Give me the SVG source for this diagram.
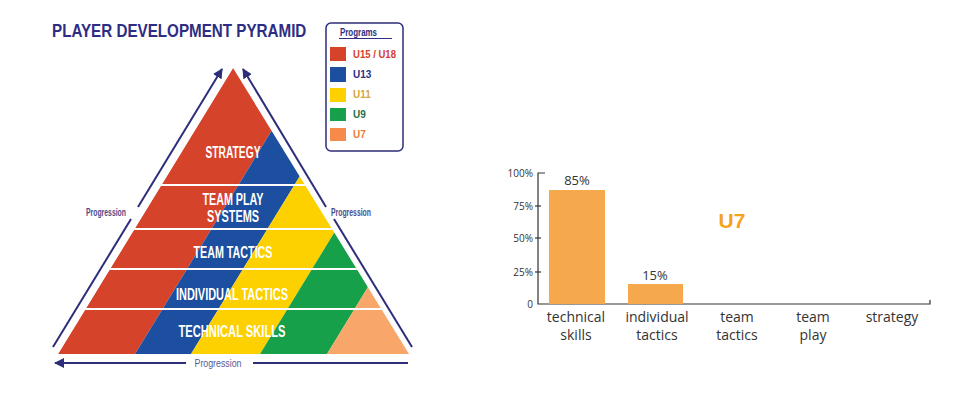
<svg xmlns="http://www.w3.org/2000/svg" width="960" height="393" viewBox="0 0 960 393">
<style>
.title{font-family:"Liberation Sans",Arial,sans-serif;font-weight:bold;fill:#2e2d83;font-size:15.2px}
.pt{font-family:"Liberation Sans",Arial,sans-serif;font-weight:bold;fill:#ffffff;font-size:16px;text-anchor:middle}
.prog{font-family:"Liberation Sans",Arial,sans-serif;font-weight:bold;fill:#4d4b8c;font-size:10px}
.leg{font-family:"Liberation Sans",Arial,sans-serif;font-weight:bold;font-size:10px}
.arr{stroke:#2e2d7a;stroke-width:2;fill:none}
.wl{stroke:#ffffff;stroke-width:2}
.ax{font-family:"Open Sans","Liberation Sans",sans-serif;fill:#333;font-size:10px;text-anchor:end}
.cat{font-family:"Open Sans","Liberation Sans",sans-serif;fill:#333;font-size:14px;text-anchor:middle}
.val{font-family:"Open Sans","Liberation Sans",sans-serif;fill:#333;font-size:13px;text-anchor:middle}
.bar{fill:#f6a84c}
.axis{stroke:#333;stroke-width:1.2;fill:none}
</style>
<defs>
<clipPath id="tri"><polygon points="58,354 233,68 409,354"/></clipPath>
<marker id="ah" viewBox="0 0 10 10" refX="9" refY="5" markerWidth="5" markerHeight="5" orient="auto"><path d="M0,0 L10,5 L0,10 Z" fill="#2e2d7a"/></marker>
</defs>
<rect width="960" height="393" fill="#ffffff"/>
<text class="title" transform="translate(52,37) scale(1,1.17)" x="0" y="0">PLAYER DEVELOPMENT PYRAMID</text>

<g id="pyramid">
<g clip-path="url(#tri)">
<polygon points="58,354 233,68 310,68 135,354" fill="#d6432b"/>
<polygon points="135,354 310,68 366,68 191,354" fill="#1c4fa0"/>
<polygon points="191,354 366,68 435,68 260,354" fill="#fdd000"/>
<polygon points="260,354 435,68 502,68 327,354" fill="#15a049"/>
<polygon points="327,354 502,68 600,68 425,354" fill="#f9a66b"/>
<line class="wl" x1="40" y1="185" x2="420" y2="185"/>
<line class="wl" x1="40" y1="229" x2="420" y2="229"/>
<line class="wl" x1="40" y1="269" x2="420" y2="269"/>
<line class="wl" x1="40" y1="309" x2="420" y2="309"/>
</g>
<text class="pt" x="233" y="158" textLength="55" lengthAdjust="spacingAndGlyphs">STRATEGY</text>
<text class="pt" x="233" y="205" textLength="61" lengthAdjust="spacingAndGlyphs">TEAM PLAY</text>
<text class="pt" x="233" y="222" textLength="52" lengthAdjust="spacingAndGlyphs">SYSTEMS</text>
<text class="pt" x="233" y="258" textLength="79" lengthAdjust="spacingAndGlyphs">TEAM TACTICS</text>
<text class="pt" x="232" y="300" textLength="112" lengthAdjust="spacingAndGlyphs">INDIVIDUAL TACTICS</text>
<text class="pt" x="232" y="337" textLength="107" lengthAdjust="spacingAndGlyphs">TECHNICAL SKILLS</text>
</g>

<g id="connectors">
<path class="arr" d="M53,347 L131,219"/>
<path class="arr" d="M138,207 L222,69" marker-end="url(#ah)"/>
<path class="arr" d="M412,347 L334,219"/>
<path class="arr" d="M326,207 L243,69" marker-end="url(#ah)"/>
<path class="arr" d="M408,363 L253,363"/>
<path class="arr" d="M186,363 L55,363" marker-end="url(#ah)"/>
</g>
<g id="progression-labels">
<text class="prog" x="86" y="216" textLength="40" lengthAdjust="spacingAndGlyphs">Progression</text>
<text class="prog" x="331" y="216" textLength="40" lengthAdjust="spacingAndGlyphs">Progression</text>
<text x="218" y="367" font-family="Liberation Sans, Arial, sans-serif" font-size="10" fill="#5a5896" text-anchor="middle" textLength="47" lengthAdjust="spacingAndGlyphs">Progression</text>
</g>

<g id="legend">
<rect x="326" y="23" width="77" height="128" rx="5" fill="#fff" stroke="#2e2d7a" stroke-width="1.5"/>
<text class="leg" x="340" y="36" fill="#2e2d83" textLength="37" lengthAdjust="spacingAndGlyphs">Programs</text>
<line x1="339" y1="38.5" x2="392" y2="38.5" stroke="#2e2d83" stroke-width="1"/>
<rect x="330" y="47" width="16" height="14" fill="#d6432b"/>
<rect x="330" y="67" width="16" height="15" fill="#1c4fa0"/>
<rect x="330" y="88" width="16" height="14" fill="#fdd000"/>
<rect x="330" y="108" width="16" height="13" fill="#15a049"/>
<rect x="330" y="128" width="16" height="13" fill="#f58a4a"/>
<text class="leg" x="353" y="58" fill="#d4402a" textLength="43" lengthAdjust="spacingAndGlyphs">U15 / U18</text>
<text class="leg" x="353" y="78" fill="#2b2f8a">U13</text>
<text class="leg" x="353" y="98" fill="#d2a83c">U11</text>
<text class="leg" x="353" y="118" fill="#2a6e4a">U9</text>
<text class="leg" x="353" y="138" fill="#f07a3a">U7</text>
</g>

<g id="chart">
<path class="axis" d="M545,173 L538,173 L538,304 L930,304 L930,300"/>
<line class="axis" x1="535" y1="206" x2="541" y2="206"/>
<line class="axis" x1="535" y1="238" x2="541" y2="238"/>
<line class="axis" x1="535" y1="272" x2="541" y2="272"/>
<text class="ax" x="533" y="177">100%</text>
<text class="ax" x="533" y="210">75%</text>
<text class="ax" x="533" y="242">50%</text>
<text class="ax" x="533" y="276">25%</text>
<text class="ax" x="533" y="308">0</text>
<rect class="bar" x="549" y="190" width="56" height="114"/>
<rect class="bar" x="628" y="284" width="55" height="20"/>
<text class="val" x="577" y="185">85%</text>
<text class="val" x="655" y="280">15%</text>
<text x="732" y="228" font-family="Liberation Sans, Arial, sans-serif" font-weight="bold" font-size="21" fill="#f5a31a" text-anchor="middle">U7</text>
<text class="cat" x="576" y="322">technical</text>
<text class="cat" x="576" y="340">skills</text>
<text class="cat" x="657" y="322">individual</text>
<text class="cat" x="657" y="340">tactics</text>
<text class="cat" x="737" y="322">team</text>
<text class="cat" x="737" y="340">tactics</text>
<text class="cat" x="813" y="322">team</text>
<text class="cat" x="813" y="340">play</text>
<text class="cat" x="892" y="322">strategy</text>
</g>
</svg>
